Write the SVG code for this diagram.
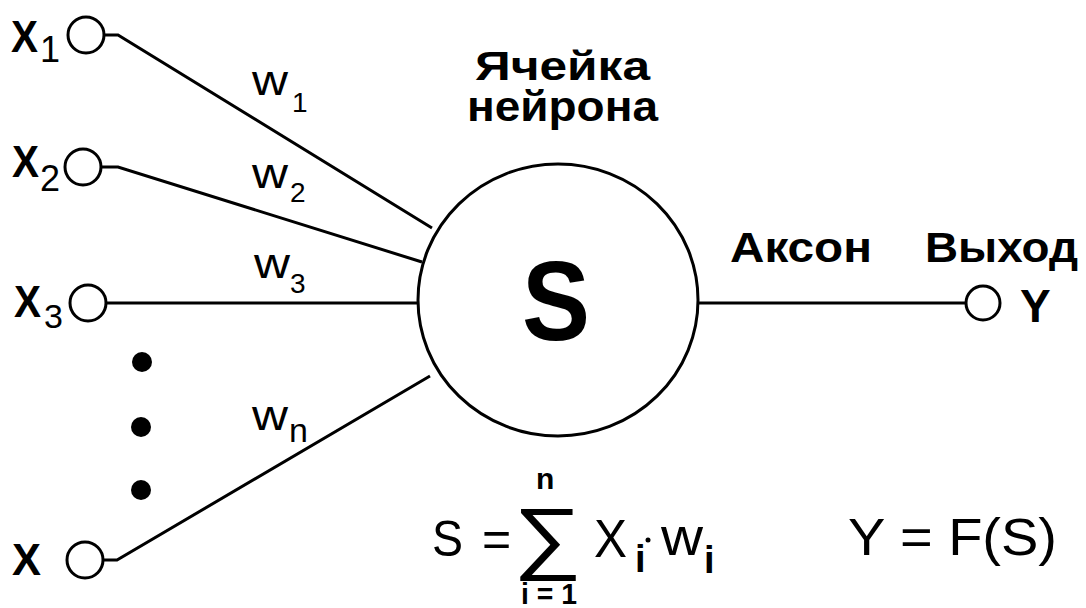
<svg xmlns="http://www.w3.org/2000/svg" width="1086" height="608" viewBox="0 0 1086 608">
<style>
.ln{fill:none;stroke:#000;stroke-width:3}
.nd{fill:#fff;stroke:#000;stroke-width:3}
.t{font-family:"Liberation Sans",Arial,sans-serif;fill:#000}
.b{font-weight:bold}
</style>
<rect width="1086" height="608" fill="#fff"/>
<g id="connectors">
<polyline class="ln" points="105,35 118,35 432,228"/>
<polyline class="ln" points="101,167 118,167 422,262"/>
<polyline class="ln" points="107,303 420,303"/>
<polyline class="ln" points="104,560 117,560 430,376"/>
<polyline class="ln" points="698,303 966,303"/>
</g>
<g id="x1"><circle class="nd" cx="86" cy="35" r="18"/><text class="t b" x="11" y="52" font-size="44" textLength="27" lengthAdjust="spacingAndGlyphs">X</text><text class="t" x="40" y="62" font-size="36">1</text></g>
<g id="x2"><circle class="nd" cx="83" cy="167" r="18"/><text class="t b" x="12" y="177" font-size="44" textLength="27" lengthAdjust="spacingAndGlyphs">X</text><text class="t" x="40" y="191" font-size="36">2</text></g>
<g id="x3"><circle class="nd" cx="88" cy="303" r="18"/><text class="t b" x="14" y="317" font-size="44" textLength="27" lengthAdjust="spacingAndGlyphs">X</text><text class="t" x="44" y="328" font-size="34">3</text></g>
<g id="dots"><circle cx="142" cy="362" r="10"/><circle cx="141" cy="427" r="10"/><circle cx="141" cy="490" r="10"/></g>
<g id="xn"><circle class="nd" cx="85" cy="560" r="18"/><text class="t b" x="12" y="575" font-size="44" textLength="29" lengthAdjust="spacingAndGlyphs">X</text></g>
<g id="weights">
<text class="t" x="252" y="95" font-size="42" textLength="36" lengthAdjust="spacingAndGlyphs">w</text><text class="t" x="292" y="112" font-size="28">1</text>
<text class="t" x="252" y="188" font-size="42" textLength="36" lengthAdjust="spacingAndGlyphs">w</text><text class="t" x="290" y="202" font-size="28">2</text>
<text class="t" x="254" y="278" font-size="42" textLength="36" lengthAdjust="spacingAndGlyphs">w</text><text class="t" x="290" y="293" font-size="28">3</text>
<text class="t" x="252" y="430" font-size="42" textLength="36" lengthAdjust="spacingAndGlyphs">w</text><text class="t" x="289" y="442" font-size="34">n</text>
</g>
<g id="title">
<text class="t b" x="475" y="80" font-size="40" textLength="175" lengthAdjust="spacingAndGlyphs">Ячейка</text>
<text class="t b" x="467" y="121" font-size="42" textLength="191" lengthAdjust="spacingAndGlyphs">нейрона</text>
</g>
<g id="neuron">
<ellipse class="nd" cx="558" cy="300" rx="140" ry="136"/>
<text class="t b" x="522" y="340" font-size="114" textLength="68" lengthAdjust="spacingAndGlyphs">S</text>
</g>
<g id="axon-label"><text class="t b" x="730" y="262" font-size="42" textLength="142" lengthAdjust="spacingAndGlyphs">Аксон</text></g>
<g id="output">
<text class="t b" x="925" y="262" font-size="42" textLength="153" lengthAdjust="spacingAndGlyphs">Выход</text>
<circle class="nd" cx="983" cy="303" r="17"/>
<text class="t b" x="1020" y="322" font-size="46">Y</text>
</g>
<g id="formula-s">
<text class="t" x="432" y="556" font-size="50" textLength="31" lengthAdjust="spacingAndGlyphs">S</text>
<text class="t" x="482" y="556" font-size="50">=</text>
<text class="t" x="513" y="564" font-size="80" textLength="69" lengthAdjust="spacingAndGlyphs">∑</text>
<text class="t b" x="536" y="489" font-size="30">n</text>
<text class="t b" x="521" y="604" font-size="30" textLength="56" lengthAdjust="spacingAndGlyphs">i = 1</text>
<text class="t" x="594" y="557" font-size="54" textLength="33" lengthAdjust="spacingAndGlyphs">X</text>
<text class="t b" x="635" y="572" font-size="38">i</text>
<circle cx="648" cy="540" r="2.5"/>
<text class="t" x="661" y="555" font-size="54" textLength="42" lengthAdjust="spacingAndGlyphs">w</text>
<text class="t b" x="704" y="573" font-size="38">i</text>
</g>
<g id="formula-y"><text class="t" x="848" y="555" font-size="52" textLength="209" lengthAdjust="spacingAndGlyphs">Y = F(S)</text></g>
</svg>
